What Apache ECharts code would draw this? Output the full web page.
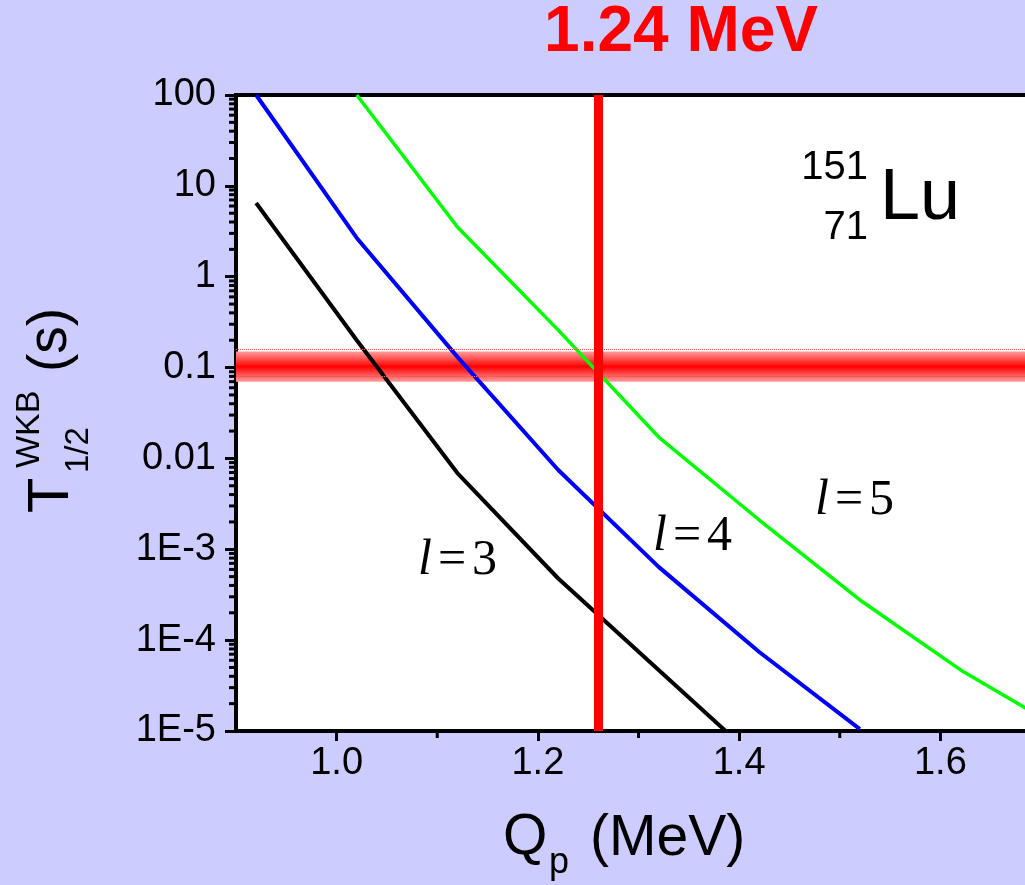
<!DOCTYPE html>
<html>
<head>
<meta charset="utf-8">
<script src="https://cdn.jsdelivr.net/npm/echarts@6/dist/echarts.min.js"></script>
<style>
html,body{margin:0;padding:0;background:#ccccff;}
#chart{width:1025px;height:885px;}
</style>
</head>
<body>
<div id="chart"></div>
<script>
// ---- data ----
const qL3 = [0.92, 1.02, 1.12, 1.22, 1.32, 1.42];
const tL3 = [6.47, 0.20, 6.9e-3, 4.8e-4, 4.7e-5, 4.6e-6];
const qL4 = [0.92, 1.02, 1.12, 1.22, 1.32, 1.42, 1.52];
const tL4 = [100, 2.67, 0.131, 7.5e-3, 6.4e-4, 7.4e-5, 1.05e-5];
const qL5 = [1.02, 1.12, 1.22, 1.32, 1.42, 1.52, 1.62, 1.72];
const tL5 = [100, 3.53, 0.26, 0.0172, 2.1e-3, 2.77e-4, 4.7e-5, 1.05e-5];
const qMarked = 1.257;               // vertical red line
const bandRange = [0.070, 0.150];    // red horizontal band (T1/2)
const bandDotted = [0.156, 0.0768];  // dotted edges of the band
const xMajorTicks = [1.0, 1.2, 1.4, 1.6];
const xMinorTicks = [1.1, 1.3, 1.5];
const yTickLabels = {'-5':'1E-5','-4':'1E-4','-3':'1E-3','-2':'0.01','-1':'0.1','0':'1','1':'10','2':'100'};
const yMinorTicks = [];
for (let d = -5; d < 2; d++) for (let k = 2; k <= 9; k++) yMinorTicks.push(k * Math.pow(10, d));

const zip = (a, b) => a.map((v, i) => [v, b[i]]);
const XMIN = 0.9, XMAX = 1.7, YMIN = 1e-5, YMAX = 100;

const chart = echarts.init(document.getElementById('chart'));
const serif = '"Liberation Serif", "DejaVu Serif", serif';
const sans = '"Liberation Sans", Arial, sans-serif';

function lTxt(n){ return '{i|l}{e|=}{d|' + n + '}'; }
const lRich = {
  i:{fontFamily:serif, fontStyle:'italic', fontSize:50, fill:'#000'},
  e:{fontFamily:serif, fontSize:50, padding:[0,6,0,6], fill:'#000'},
  d:{fontFamily:serif, fontSize:50, fill:'#000'}
};

const option = {
  animation:false,
  backgroundColor:'#ccccff',
  grid:{left:236, top:95, width:805, height:636, show:true, backgroundColor:'#ffffff',
        borderColor:'#000', borderWidth:4, containLabel:false, outerBoundsMode:'none'},
  xAxis:{
    type:'value', min:XMIN, max:XMAX,
    axisLine:{show:true, lineStyle:{color:'#000', width:4}},
    axisTick:{show:true, customValues:xMajorTicks, length:10, lineStyle:{color:'#000', width:3}},
    axisLabel:{customValues:xMajorTicks, fontSize:38, fontFamily:sans, color:'#000', margin:14,
               formatter:v => v.toFixed(1)},
    splitLine:{show:false}
  },
  yAxis:{
    type:'log', logBase:10, min:YMIN, max:YMAX,
    axisLine:{show:true, lineStyle:{color:'#000', width:4}},
    axisTick:{show:true, length:11, lineStyle:{color:'#000', width:3}},
    axisLabel:{fontSize:38, fontFamily:sans, color:'#000', margin:20,
      formatter:v => { const e = Math.round(Math.log10(v)); return yTickLabels[String(e)] || ''; }},
    splitLine:{show:false}, minorTick:{show:false}
  },
  series:[
    { type:'line', data:[], z:1, silent:true,
      markArea:{silent:true,
        itemStyle:{color:{type:'linear', x:0, y:0, x2:0, y2:1, colorStops:[
          {offset:0, color:'#ff9c9c'}, {offset:0.5, color:'#ff0000'}, {offset:1, color:'#ff9c9c'}]}},
        data:[[{yAxis:bandRange[1]}, {yAxis:bandRange[0]}]]},
      markLine:{silent:true, symbol:'none', label:{show:false},
        lineStyle:{type:'dotted', color:'#ff5050', width:1},
        data:bandDotted.map(v => ({yAxis:v}))}
    },
    { name:'l=3', type:'line', data:zip(qL3, tL3), showSymbol:false, z:3,
      lineStyle:{color:'#000000', width:4}, itemStyle:{color:'#000'} },
    { name:'l=4', type:'line', data:zip(qL4, tL4), showSymbol:false, z:3,
      lineStyle:{color:'#0000ff', width:4}, itemStyle:{color:'#00f'} },
    { name:'l=5', type:'line', data:zip(qL5, tL5), showSymbol:false, z:3,
      lineStyle:{color:'#00ff00', width:3.5}, itemStyle:{color:'#0f0'} },
    { type:'line', data:[], z:4, silent:true,
      markLine:{silent:true, symbol:'none', label:{show:false},
        lineStyle:{type:'solid', color:'#ff0000', width:9},
        data:[{xAxis:qMarked}]} },
    { type:'custom', z:6, silent:true, clip:false,
      data:yMinorTicks.map(v => [XMIN, v]),
      renderItem:(params, api) => {
        const p = api.coord([api.value(0), api.value(1)]);
        return {type:'line', shape:{x1:p[0]-7, y1:p[1], x2:p[0], y2:p[1]},
                style:{stroke:'#000', lineWidth:3}};
      } },
    { type:'custom', z:6, silent:true, clip:false,
      data:xMinorTicks.map(v => [v, YMIN]),
      renderItem:(params, api) => {
        const p = api.coord([api.value(0), api.value(1)]);
        return {type:'line', shape:{x1:p[0], y1:p[1], x2:p[0], y2:p[1]+7},
                style:{stroke:'#000', lineWidth:3}};
      } }
  ],
  graphic:[
    {type:'text', x:681, y:33, z:10, style:{text:'1.24 MeV', fontSize:64, fontWeight:'bold',
      fontFamily:sans, fill:'#ff0000', align:'center', verticalAlign:'middle'}},
    {type:'text', x:880, y:199, z:10, style:{text:'Lu', fontSize:72, fontFamily:sans, fill:'#000',
      align:'left', verticalAlign:'middle'}},
    {type:'text', x:868, y:168, z:10, style:{text:'151', fontSize:40, fontFamily:sans, fill:'#000',
      align:'right', verticalAlign:'middle'}},
    {type:'text', x:868, y:228, z:10, style:{text:'71', fontSize:40, fontFamily:sans, fill:'#000',
      align:'right', verticalAlign:'middle'}},
    {type:'text', x:418, y:561, z:10, style:{text:lTxt(3), rich:lRich, align:'left', verticalAlign:'middle'}},
    {type:'text', x:653, y:537, z:10, style:{text:lTxt(4), rich:lRich, align:'left', verticalAlign:'middle'}},
    {type:'text', x:815, y:501, z:10, style:{text:lTxt(5), rich:lRich, align:'left', verticalAlign:'middle'}},
    // x axis title
    {type:'text', x:503, y:838, z:10, style:{text:'Q', fontSize:57, fontFamily:sans, fill:'#000',
      align:'left', verticalAlign:'middle'}},
    {type:'text', x:549, y:863, z:10, style:{text:'p', fontSize:36, fontFamily:sans, fill:'#000',
      align:'left', verticalAlign:'middle'}},
    {type:'text', x:590, y:839, z:10, style:{text:'(MeV)', fontSize:57, fontFamily:sans, fill:'#000',
      align:'left', verticalAlign:'middle'}},
    // y axis title (rotated)
    {type:'text', x:51.5, y:513, rotation:Math.PI/2, z:10, style:{text:'T', fontSize:58, fontFamily:sans,
      fill:'#000', align:'left', verticalAlign:'middle'}},
    {type:'text', x:79, y:473, rotation:Math.PI/2, z:10, style:{text:'1/2', fontSize:33, fontFamily:sans,
      fill:'#000', align:'left', verticalAlign:'middle'}},
    {type:'text', x:29.5, y:468, rotation:Math.PI/2, z:10, style:{text:'WKB', fontSize:34, fontFamily:sans,
      fill:'#000', align:'left', verticalAlign:'middle'}},
    {type:'text', x:51, y:372, rotation:Math.PI/2, z:10, style:{text:'(s)', fontSize:55, fontFamily:sans,
      fill:'#000', align:'left', verticalAlign:'middle'}}
  ]
};
chart.setOption(option);
</script>
</body>
</html>
